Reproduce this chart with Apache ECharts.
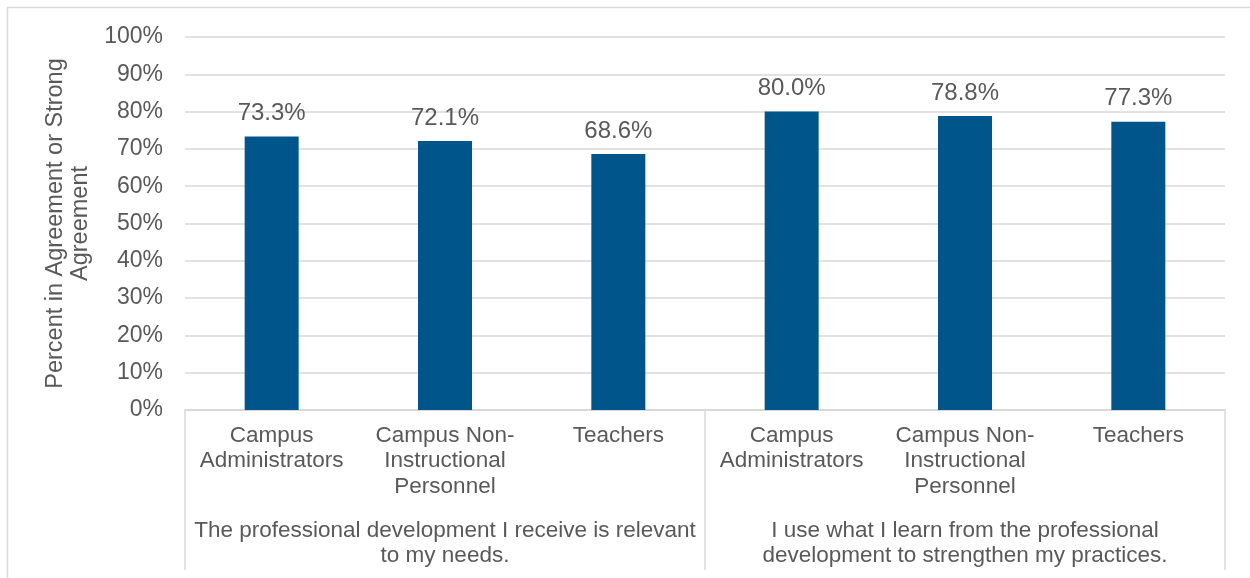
<!DOCTYPE html>
<html>
<head>
<meta charset="utf-8">
<script src="https://cdn.jsdelivr.net/npm/echarts@6/dist/echarts.min.js"></script>
<style>
  html, body { margin: 0; padding: 0; background: #ffffff; }
  #chart { width: 1250px; height: 578px; }
</style>
</head>
<body>
<div id="chart"></div>
<script>
// Respondent groups (lower axis level) and survey statements (upper axis level)
const categories = [
  'Campus\nAdministrators',
  'Campus Non-\nInstructional\nPersonnel',
  'Teachers',
  'Campus\nAdministrators',
  'Campus Non-\nInstructional\nPersonnel',
  'Teachers'
];
const statements = [
  'The professional development I receive is relevant\nto my needs.',
  'I use what I learn from the professional\ndevelopment to strengthen my practices.'
];
// Percent in agreement or strong agreement
const values = [73.3, 72.1, 68.6, 80.0, 78.8, 77.3];
const yTicks = { min: 0, max: 100, interval: 10 };

const textColor = '#595959';
const lineColor = '#d9d9d9';
const font = 'Liberation Sans, Arial, sans-serif';

const chart = echarts.init(document.getElementById('chart'), null, { renderer: 'canvas' });

chart.setOption({
  backgroundColor: '#ffffff',
  animation: false,
  textStyle: { fontFamily: font },
  graphic: [{
    type: 'rect',
    shape: { x: 7.5, y: 7.5, width: 1400, height: 700 },
    style: { fill: 'none', stroke: lineColor, lineWidth: 1.5 },
    silent: true,
    z: -10
  }],
  grid: { left: 185, right: 25, top: 37, bottom: 168, containLabel: false },
  xAxis: [
    {
      type: 'category',
      data: categories,
      position: 'bottom',
      axisLine: { show: true, lineStyle: { color: lineColor, width: 1.5 } },
      axisTick: { show: false },
      axisLabel: {
        interval: 0,
        color: textColor,
        fontSize: 22.5,
        lineHeight: 25.5,
        margin: 13,
        fontFamily: font
      }
    },
    {
      type: 'category',
      data: statements,
      position: 'bottom',
      gridIndex: 0,
      axisLine: { show: true, lineStyle: { color: lineColor, width: 1.5 } },
      axisTick: { show: true, length: 160, interval: 0, lineStyle: { color: lineColor, width: 1.5 } },
      axisLabel: {
        interval: 0,
        color: textColor,
        fontSize: 22.5,
        lineHeight: 25.5,
        margin: 108,
        fontFamily: font
      }
    }
  ],
  yAxis: {
    type: 'value',
    min: yTicks.min,
    max: yTicks.max,
    interval: yTicks.interval,
    name: 'Percent in Agreement or Strong\nAgreement',
    nameLocation: 'middle',
    nameGap: 88,
    nameTextStyle: { color: textColor, fontSize: 23.5, lineHeight: 25.5, fontFamily: font },
    axisLine: { show: false },
    axisTick: { show: false },
    splitLine: { show: true, lineStyle: { color: lineColor, width: 1.5 } },
    axisLabel: {
      color: textColor,
      fontSize: 23,
      margin: 22,
      fontFamily: font,
      formatter: '{value}%'
    }
  },
  series: [{
    type: 'bar',
    xAxisIndex: 0,
    data: values,
    barWidth: 54,
    itemStyle: { color: '#00558a' },
    label: {
      show: true,
      position: 'top',
      distance: 11,
      color: textColor,
      fontSize: 24,
      fontFamily: font,
      formatter: p => p.value.toFixed(1) + '%'
    }
  }]
});
</script>
</body>
</html>
